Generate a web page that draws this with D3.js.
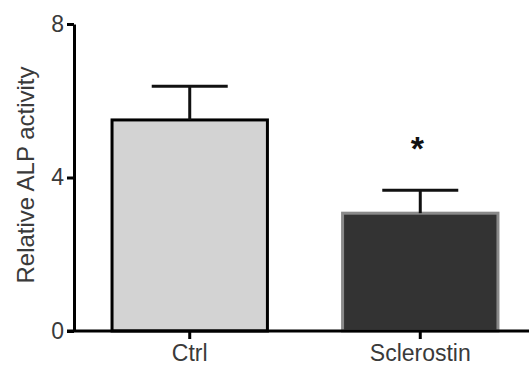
<!DOCTYPE html>
<html>
<head>
<meta charset="utf-8">
<script src="https://cdn.jsdelivr.net/npm/d3@7"></script>
<style>
  body { margin: 0; background: #fff; }
  text { font-family: "Liberation Sans", Arial, sans-serif; }
</style>
</head>
<body>
<div id="chart"></div>
<script>
// data
const groups = ["Ctrl", "Sclerostin"];
const means = [5.5, 3.07];
const errors = [0.88, 0.6];
const yTicks = [0, 4, 8];
const marks = ["", "*"];

const fills = ["#d3d3d3", "#333333"];
const strokes = ["#000000", "#8a8a8a"];

const W = 529, H = 369;
const margin = { top: 24, right: 0, bottom: 38, left: 74 };

const svg = d3.select("#chart")
    .append("svg")
    .attr("width", W)
    .attr("height", H);

const y = d3.scaleLinear()
    .domain([0, 8])
    .range([H - margin.bottom, margin.top]);

const x = d3.scaleBand()
    .domain(groups)
    .range([margin.left, 536])
    .paddingInner(0.326)
    .paddingOuter(0.165);

// bars
svg.selectAll("rect.bar")
    .data(groups)
    .join("rect")
    .attr("class", "bar")
    .attr("x", d => x(d))
    .attr("y", (d, i) => y(means[i]))
    .attr("width", x.bandwidth())
    .attr("height", (d, i) => y(0) - y(means[i]))
    .attr("fill", (d, i) => fills[i])
    .attr("stroke", (d, i) => strokes[i])
    .attr("stroke-width", 3);

// error bars (upper only)
const capW = 76;
groups.forEach((g, i) => {
    const cx = x(g) + x.bandwidth() / 2;
    svg.append("line")
        .attr("x1", cx).attr("x2", cx)
        .attr("y1", y(means[i])).attr("y2", y(means[i] + errors[i]))
        .attr("stroke", "#111").attr("stroke-width", 3);
    svg.append("line")
        .attr("x1", cx - capW / 2).attr("x2", cx + capW / 2)
        .attr("y1", y(means[i] + errors[i])).attr("y2", y(means[i] + errors[i]))
        .attr("stroke", "#111").attr("stroke-width", 3);
    if (marks[i]) {
        svg.append("text")
            .attr("x", cx - 3)
            .attr("y", y(means[i] + errors[i]) - 30)
            .attr("text-anchor", "middle")
            .style("font-size", "34px")
            .style("font-weight", "bold")
            .attr("fill", "#111")
            .text(marks[i]);
    }
});

// y axis
const yAxis = svg.append("g")
    .attr("transform", `translate(${margin.left},0)`)
    .call(d3.axisLeft(y).tickValues(yTicks).tickSize(7).tickSizeOuter(0));
yAxis.select(".domain").attr("stroke", "#000").attr("stroke-width", 3);
yAxis.selectAll(".tick line").attr("stroke", "#000").attr("stroke-width", 3);
yAxis.selectAll(".tick text")
    .attr("x", -10)
    .attr("fill", "#3a3a3a")
    .style("font-size", "23px");

// x axis
const xAxis = svg.append("g")
    .attr("transform", `translate(0,${y(0)})`)
    .call(d3.axisBottom(x).tickSize(8).tickSizeOuter(0));
xAxis.select(".domain")
    .attr("d", `M${margin.left - 7},0H${W}`)
    .attr("stroke", "#000").attr("stroke-width", 3);
xAxis.selectAll(".tick line").attr("stroke", "#000").attr("stroke-width", 3);
xAxis.selectAll(".tick text")
    .attr("y", 14)
    .attr("fill", "#3a3a3a")
    .style("font-size", "23px");

// y label
svg.append("text")
    .attr("transform", `translate(34,${175}) rotate(-90)`)
    .attr("text-anchor", "middle")
    .attr("fill", "#3a3a3a")
    .style("font-size", "24px")
    .text("Relative ALP activity");
</script>
</body>
</html>
